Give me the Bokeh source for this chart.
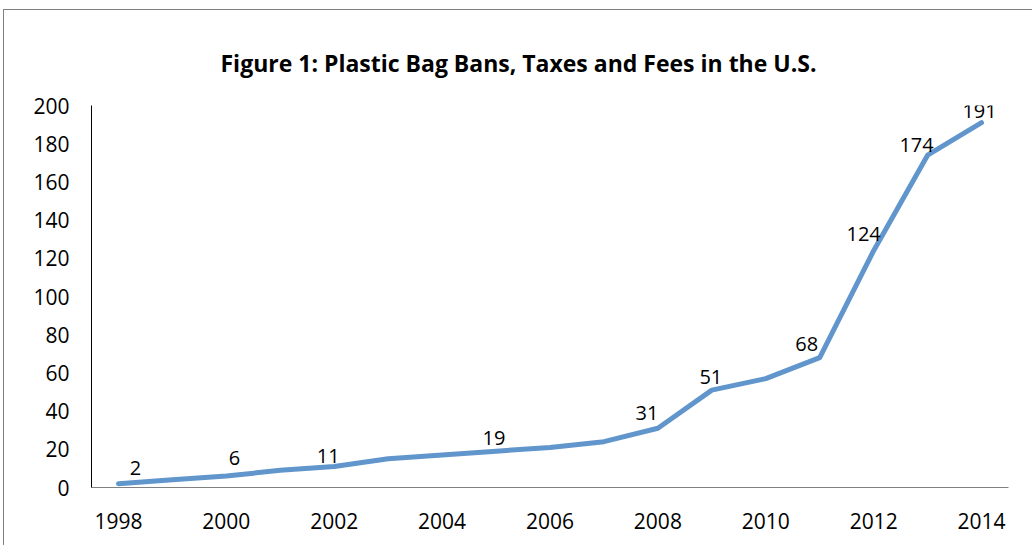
from bokeh.plotting import figure
from bokeh.models import ColumnDataSource, FixedTicker, Range1d
from bokeh.core.properties import value
from bokeh.embed import file_html
from bokeh.resources import INLINE

# ---- data ----
years = [1998, 1999, 2000, 2001, 2002, 2003, 2004, 2005, 2006, 2007,
         2008, 2009, 2010, 2011, 2012, 2013, 2014]
counts = [2, 4, 6, 9, 11, 15, 17, 19, 21, 24, 31, 51, 57, 68, 124, 174, 191]
label_years = [1998, 2000, 2002, 2005, 2008, 2009, 2011, 2012, 2013, 2014]
title_text = "Figure 1: Plastic Bag Bans, Taxes and Fees in the U.S."
x_ticks = [1998, 2000, 2002, 2004, 2006, 2008, 2010, 2012, 2014]
y_ticks = [0, 20, 40, 60, 80, 100, 120, 140, 160, 180, 200]

# label nudges in screen pixels (layout only)
label_dx = [17, 8, -6, -2, -11, -1, -13, -10, -11, -2]
label_dy = [-16, -18, -10, -13, -15, -13, -14, -17, -10, -12]

FONT = "Open Sans"

p = figure(width=1029, height=536, output_backend="svg", toolbar_location=None,
           x_range=Range1d(1997.5, 2014.5), y_range=Range1d(0, 200),
           min_border_left=87, min_border_right=25, min_border_top=95,
           min_border_bottom=59)
p.styles = {"border-left": "1px solid #808080", "border-top": "1px solid #808080",
            "margin-left": "3px", "margin-top": "9px"}

p.title.text = title_text
p.title.align = "left"
p.title.text_font = "Open Sans"
p.title.text_font_style = "bold"
p.title.text_font_size = "23px"
p.title.text_color = "#000000"
p.title.offset = 129
p.title.standoff = 53

p.outline_line_color = None
p.xgrid.grid_line_color = None
p.ygrid.grid_line_color = None

p.xaxis.ticker = FixedTicker(ticks=x_ticks)
p.yaxis.ticker = FixedTicker(ticks=y_ticks)
for ax in (p.xaxis[0], p.yaxis[0]):
    ax.major_tick_line_color = None
    ax.minor_tick_line_color = None
    ax.major_label_text_font = FONT
    ax.major_label_text_font_size = "21px"
    ax.major_label_text_color = "#000000"
p.xaxis.axis_line_color = "#808080"
p.yaxis.axis_line_color = "#000000"
p.xaxis.major_label_standoff = 19
p.yaxis.major_label_standoff = 16

src = ColumnDataSource(dict(x=years, y=counts))
p.line("x", "y", source=src, line_color="#6196CC", line_width=5, line_join="round",
       line_cap="round")

lab_vals = [counts[years.index(y)] for y in label_years]
lsrc = ColumnDataSource(dict(x=label_years, y=lab_vals, t=[str(v) for v in lab_vals],
                             dx=label_dx, dy=label_dy))
p.text("x", "y", text="t", source=lsrc, x_offset="dx", y_offset="dy",
       text_align="center", text_baseline="middle", text_font=value(FONT),
       text_font_size="20px", text_color="#000000")

open("out.html", "w").write(file_html(p, INLINE))
